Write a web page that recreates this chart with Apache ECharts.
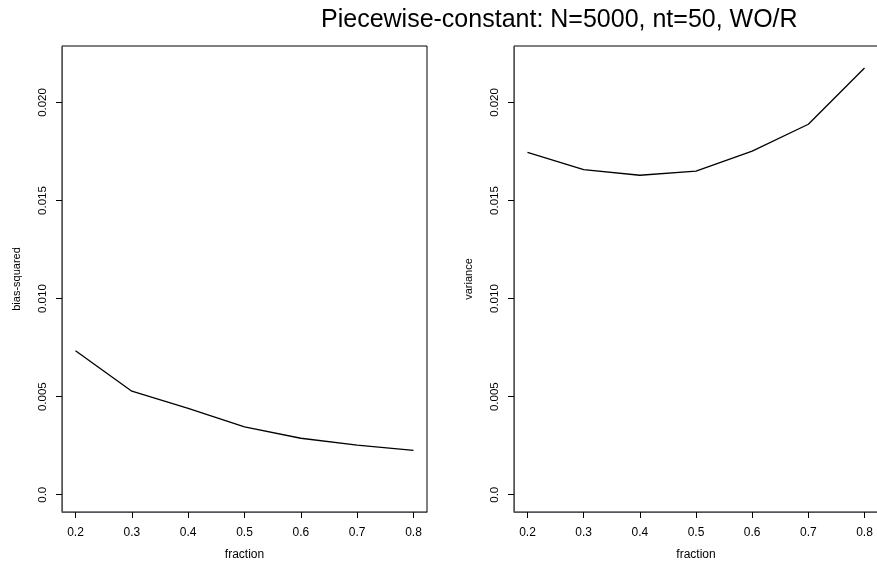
<!DOCTYPE html>
<html>
<head>
<meta charset="utf-8">
<script src="https://cdn.jsdelivr.net/npm/echarts@6/dist/echarts.min.js"></script>
<style>
html,body{margin:0;padding:0;background:#fff;}
#c{width:877px;height:561px;}
</style>
</head>
<body>
<div id="c"></div>
<script>
var titleText = "Piecewise-constant: N=5000, nt=50, WO/R";
var fraction = [0.2, 0.3, 0.4, 0.5, 0.6, 0.7, 0.8];
var biasSquared = [0.00734, 0.00528, 0.00440, 0.00346, 0.00288, 0.00253, 0.00226];
var variance = [0.01746, 0.01658, 0.01629, 0.01650, 0.01752, 0.01889, 0.02176];
var xTickValues = [0.2, 0.3, 0.4, 0.5, 0.6, 0.7, 0.8];
var xTickLabels = ["0.2", "0.3", "0.4", "0.5", "0.6", "0.7", "0.8"];
var yTickValues = [0, 0.005, 0.01, 0.015, 0.02];
var yTickLabels = ["0.0", "0.005", "0.010", "0.015", "0.020"];
var xLabelName = "fraction";
var yNames = ["bias-squared", "variance"];

var xlim = [0.2, 0.8], ylim = [0, 0.022];
function pad(lim){ var d = (lim[1]-lim[0])*0.04; return [lim[0]-d, lim[1]+d]; }
var xr = pad(xlim), yr = pad(ylim);
function lookup(vals, labs, v){
  for (var i=0;i<vals.length;i++){ if (Math.abs(vals[i]-v) < 1e-9) return labs[i]; }
  return '';
}
var font = 'Liberation Sans, Arial, Helvetica, sans-serif';

function xAxis(gi){
  return {
    type:'value', gridIndex:gi, min:xr[0], max:xr[1],
    axisLine:{show:true, onZero:false},
    splitLine:{show:false},
    axisTick:{show:true, length:6, customValues:xTickValues, lineStyle:{color:'#000', width:1}},
    axisLabel:{customValues:xTickValues, margin:15, color:'#000', fontSize:12, fontFamily:font,
      formatter:function(v){ return lookup(xTickValues, xTickLabels, v); }},
    name:xLabelName, nameLocation:'middle', nameGap:37,
    nameTextStyle:{color:'#000', fontSize:12, fontFamily:font}
  };
}
function yAxis(gi, nm){
  return {
    type:'value', gridIndex:gi, min:yr[0], max:yr[1],
    axisLine:{show:true, onZero:false},
    splitLine:{show:false},
    axisTick:{show:true, length:6, customValues:yTickValues, lineStyle:{color:'#000', width:1}},
    axisLabel:{customValues:yTickValues, rotate:90, margin:13, color:'#000', fontSize:11.5, fontFamily:font,
      formatter:function(v){ return lookup(yTickValues, yTickLabels, v); }},
    name:nm, nameLocation:'middle', nameGap:40, nameRotate:90,
    nameTextStyle:{color:'#000', fontSize:11, fontFamily:font}
  };
}

var chart = echarts.init(document.getElementById('c'));
chart.setOption({
  animation:false,
  backgroundColor:'#fff',
  title:{text:titleText, left:321, top:8, padding:0,
    textStyle:{color:'#000', fontSize:25, fontWeight:'normal', fontFamily:font}},
  grid:[
    {left:62, top:46, width:365, height:466, show:true, borderColor:'#000', outerBoundsMode:'none'},
    {left:514, top:46, width:364, height:466, show:true, borderColor:'#000', outerBoundsMode:'none'}
  ],
  xAxis:[xAxis(0), xAxis(1)],
  yAxis:[yAxis(0, yNames[0]), yAxis(1, yNames[1])],
  series:[
    {type:'line', xAxisIndex:0, yAxisIndex:0, data:fraction.map(function(x,i){return [x, biasSquared[i]];}),
     showSymbol:false, symbol:'none', lineStyle:{color:'#000', width:1.3}, itemStyle:{color:'#000'}},
    {type:'line', xAxisIndex:1, yAxisIndex:1, data:fraction.map(function(x,i){return [x, variance[i]];}),
     showSymbol:false, symbol:'none', lineStyle:{color:'#000', width:1.3}, itemStyle:{color:'#000'}}
  ]
});
</script>
</body>
</html>
